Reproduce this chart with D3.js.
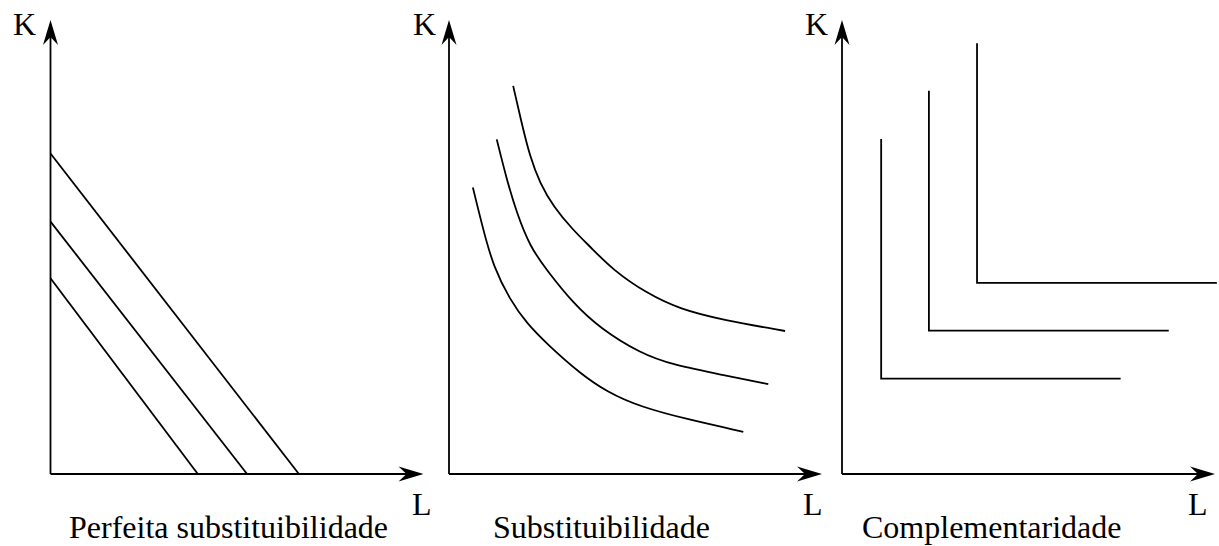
<!DOCTYPE html>
<html><head><meta charset="utf-8">
<script src="https://cdn.jsdelivr.net/npm/d3@7"></script>
<style>html,body{margin:0;padding:0;background:#fff;}svg{display:block;}</style>
</head><body>
<svg id="chart" width="1219" height="546"></svg>
<script>
// ---- data (chart units: 0..10 on each axis) ----
const panelTitles = ["Perfeita substituibilidade", "Substituibilidade", "Complementaridade"];
const axisLabelY = "K";
const axisLabelX = "L";

// Panel 1: straight isoquants, given by [K intercept, L intercept]
const linearKIntercepts = [4.31, 5.56, 7.06];
const linearLIntercepts = [3.95, 5.27, 6.66];

// Panel 2: convex isoquants [L, K]
const curveLow = [[0.64,6.31],[0.92,5.37],[1.19,4.57],[1.64,3.83],[2.08,3.32],[2.71,2.80],[3.51,2.22],[4.23,1.81],[5.12,1.48],[6.46,1.19],[7.89,0.93]];
const curveMid = [[1.28,7.37],[1.55,6.48],[1.82,5.74],[2.17,5.01],[2.62,4.49],[3.33,3.76],[4.05,3.21],[5.12,2.66],[6.01,2.40],[7.35,2.18],[8.56,1.98]];
const curveHigh = [[1.72,8.55],[1.95,7.72],[2.17,6.99],[2.44,6.40],[2.80,5.89],[3.33,5.37],[3.78,5.01],[4.40,4.49],[5.30,3.98],[6.19,3.63],[7.35,3.39],[9.01,3.15]];

// Panel 3: L-shaped isoquants: corner L, corner K, top K, right-end L
const cornerL = [1.05, 2.33, 3.62];
const cornerK = [2.10, 3.16, 4.21];
const topK = [7.38, 8.44, 9.49];
const endL = [7.47, 8.76, 10.05];

// ---- layout ----
const svg = d3.select("#chart");
const font = "Liberation Serif, Times New Roman, serif";
const origins = [50.5, 449, 842];
const baseY = 474, topY = 20, width = 373;
const kLabelX = [13, 413, 805];
const lLabelX = [412, 803, 1188];
const titleX = [69, 493, 862];
const sw = 1.8;

function arrowHead(g, x, y, angle) {
  g.append("path")
    .attr("d", "M0,0 L-25,-7.5 L-17,0 L-25,7.5 Z")
    .attr("transform", `translate(${x},${y}) rotate(${angle})`)
    .attr("fill", "#000");
}

origins.forEach((x0, i) => {
  const xs = d3.scaleLinear().domain([0, 10]).range([x0, x0 + width]);
  const ys = d3.scaleLinear().domain([0, 10]).range([baseY, topY]);
  const g = svg.append("g");

  g.append("line").attr("x1", xs(0)).attr("y1", ys(0)).attr("x2", xs(0)).attr("y2", ys(10) + 10)
    .attr("stroke", "#000").attr("stroke-width", sw);
  g.append("line").attr("x1", xs(0)).attr("y1", ys(0)).attr("x2", xs(10) - 10).attr("y2", ys(0))
    .attr("stroke", "#000").attr("stroke-width", sw);
  arrowHead(g, xs(0), ys(10), -90);
  arrowHead(g, xs(10), ys(0), 0);

  g.append("text").attr("x", kLabelX[i]).attr("y", 35).text(axisLabelY)
    .style("font-family", font).attr("font-size", 32).attr("fill", "#000");
  g.append("text").attr("x", lLabelX[i]).attr("y", 515).text(axisLabelX)
    .style("font-family", font).attr("font-size", 32).attr("fill", "#000");
  g.append("text").attr("x", titleX[i]).attr("y", 538).text(panelTitles[i])
    .style("font-family", font).attr("font-size", 32).attr("fill", "#000");

  const line = d3.line().x(d => xs(d[0])).y(d => ys(d[1]));
  const stroke = sel => sel.attr("fill", "none").attr("stroke", "#000").attr("stroke-width", sw);

  if (i === 0) {
    linearKIntercepts.forEach((k, j) => {
      g.append("path").attr("d", line([[0, k], [linearLIntercepts[j], 0]])).call(stroke);
    });
  } else if (i === 1) {
    const curve = d3.line().x(d => xs(d[0])).y(d => ys(d[1])).curve(d3.curveBasis);
    [curveLow, curveMid, curveHigh].forEach(c => {
      g.append("path").attr("d", curve(c)).call(stroke);
    });
  } else {
    cornerL.forEach((l, j) => {
      g.append("path").attr("d", line([[l, topK[j]], [l, cornerK[j]], [endL[j], cornerK[j]]])).call(stroke);
    });
  }
});
</script>
</body></html>
